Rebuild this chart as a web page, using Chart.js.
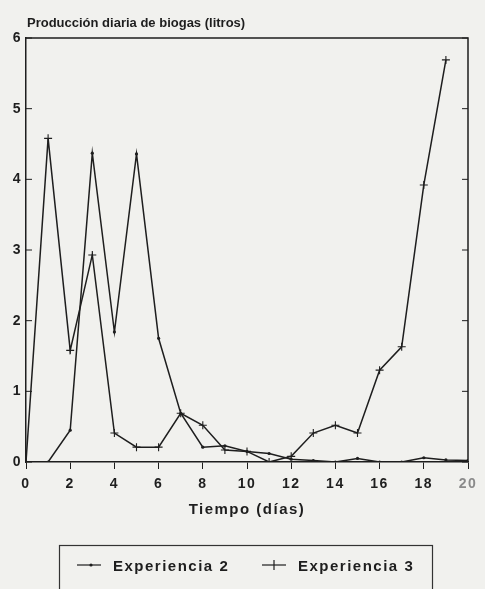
<!DOCTYPE html>
<html>
<head>
<meta charset="utf-8">
<script src="https://cdn.jsdelivr.net/npm/chart.js@4/dist/chart.umd.min.js"></script>
<style>
  html, body { margin: 0; padding: 0; background: #f1f1ee; }
  #wrap { width: 485px; height: 589px; }
</style>
</head>
<body>
<div id="wrap"><canvas id="biogasChart" width="485" height="589"></canvas></div>
<script>
// Datos (litros por dia)
const dias = [0, 1, 2, 3, 4, 5, 6, 7, 8, 9, 10, 11, 12, 13, 14, 15, 16, 17, 18, 19, 20];
const experiencia2 = [0, 0, 0.45, 4.37, 1.84, 4.36, 1.75, 0.69, 0.21, 0.23, 0.15, 0.12, 0.04, 0.02, 0, 0.05, 0, 0, 0.06, 0.03, 0.02];
const experiencia3 = [0, 4.58, 1.58, 2.93, 0.41, 0.21, 0.21, 0.69, 0.52, 0.17, 0.15, 0, 0.08, 0.41, 0.52, 0.41, 1.3, 1.63, 3.92, 5.69, null];
const xTicks = [0, 2, 4, 6, 8, 10, 12, 14, 16, 18, 20];
const yTicks = [0, 1, 2, 3, 4, 5, 6];

const titulo = "Producción diaria de biogas (litros)";
const ink = "#1e1e1e";
const fontFamily = '"Liberation Sans", Arial, sans-serif';

function toPoints(values) {
    return dias.map((d, i) => ({ x: d, y: values[i] })).filter(p => p.y !== null);
}

// Caja del grafico, ticks interiores, titulo y leyenda
const paperPlugin = {
    id: "paper",
    beforeDraw(chart) {
        chart.ctx.letterSpacing = "1.5px";
    },
    afterDraw(chart) {
        const ctx = chart.ctx;
        const area = chart.chartArea;
        const yScale = chart.scales.y;
        ctx.save();
        ctx.strokeStyle = ink;
        ctx.lineWidth = 1.5;
        ctx.beginPath();
        ctx.moveTo(area.left, area.top);
        ctx.lineTo(area.right, area.top);
        ctx.lineTo(area.right, area.bottom);
        ctx.stroke();

        ctx.lineWidth = 1;
        yTicks.forEach(v => {
            const py = yScale.getPixelForValue(v);
            ctx.beginPath();
            ctx.moveTo(area.left, py);
            ctx.lineTo(area.left + 6, py);
            ctx.moveTo(area.right, py);
            ctx.lineTo(area.right - 6, py);
            ctx.stroke();
        });

        // titulo
        ctx.letterSpacing = "0px";
        ctx.fillStyle = ink;
        ctx.font = "bold 13px " + fontFamily;
        ctx.textBaseline = "alphabetic";
        ctx.textAlign = "left";
        ctx.fillText(titulo, 27, 27);

        // leyenda
        ctx.lineWidth = 1.2;
        ctx.strokeStyle = "#333";
        ctx.strokeRect(59.5, 545.5, 373, 60);
        ctx.font = "bold 15px " + fontFamily;
        ctx.letterSpacing = "1.5px";
        ctx.textBaseline = "middle";
        const ds = chart.data.datasets;
        const entries = [
            { x: 77, textX: 113, ds: ds[0] },
            { x: 262, textX: 298, ds: ds[1] }
        ];
        entries.forEach(e => {
            ctx.strokeStyle = ink;
            ctx.lineWidth = 1.2;
            ctx.beginPath();
            ctx.moveTo(e.x, 565);
            ctx.lineTo(e.x + 24, 565);
            ctx.stroke();
            if (e.ds.pointStyle === "cross") {
                ctx.beginPath();
                ctx.moveTo(e.x + 12, 560);
                ctx.lineTo(e.x + 12, 570);
                ctx.stroke();
            } else {
                ctx.beginPath();
                ctx.arc(e.x + 14, 565, 1.6, 0, Math.PI * 2);
                ctx.fill();
            }
            ctx.fillText(e.ds.label, e.textX, 567);
        });
        ctx.restore();
    }
};

const ctx = document.getElementById("biogasChart").getContext("2d");
new Chart(ctx, {
    type: "line",
    data: {
        datasets: [
            {
                label: "Experiencia 2",
                data: toPoints(experiencia2),
                borderColor: ink,
                backgroundColor: ink,
                borderWidth: 1.5,
                pointStyle: "circle",
                pointRadius: 1.6,
                pointBorderWidth: 0,
                tension: 0
            },
            {
                label: "Experiencia 3",
                data: toPoints(experiencia3),
                borderColor: ink,
                backgroundColor: ink,
                borderWidth: 1.5,
                pointStyle: "cross",
                pointRadius: 4,
                pointBorderWidth: 1.1,
                tension: 0
            }
        ]
    },
    options: {
        responsive: false,
        animation: false,
        devicePixelRatio: 1,
        layout: { padding: { left: 0, top: 38, right: 17, bottom: 67 } },
        plugins: {
            legend: { display: false },
            title: { display: false },
            tooltip: { enabled: false }
        },
        scales: {
            x: {
                type: "linear",
                min: 0,
                max: 20,
                afterFit: s => { s.height = 60; },
                afterBuildTicks: s => { s.ticks = xTicks.map(v => ({ value: v })); },
                grid: { display: true, drawOnChartArea: false, drawTicks: true, tickLength: 7, color: ink, lineWidth: 1 },
                border: { display: true, color: ink, width: 1.5 },
                ticks: {
                    padding: 7,
                    color: c => (c.tick && c.tick.value === 20 ? "#8a8a8a" : ink),
                    font: { family: fontFamily, size: 14, weight: "bold" },
                    maxRotation: 0
                },
                title: {
                    display: true,
                    text: "Tiempo (días)",
                    color: ink,
                    font: { family: fontFamily, size: 15, weight: "bold" },
                    padding: { top: 0, bottom: 3 }
                }
            },
            y: {
                min: 0,
                max: 6,
                afterFit: s => { s.width = 26; },
                afterBuildTicks: s => { s.ticks = yTicks.map(v => ({ value: v })); },
                grid: { display: false, drawTicks: false },
                border: { display: true, color: ink, width: 1.5 },
                ticks: {
                    padding: 4,
                    color: ink,
                    font: { family: fontFamily, size: 14, weight: "bold" }
                }
            }
        }
    },
    plugins: [paperPlugin]
});
</script>
</body>
</html>
